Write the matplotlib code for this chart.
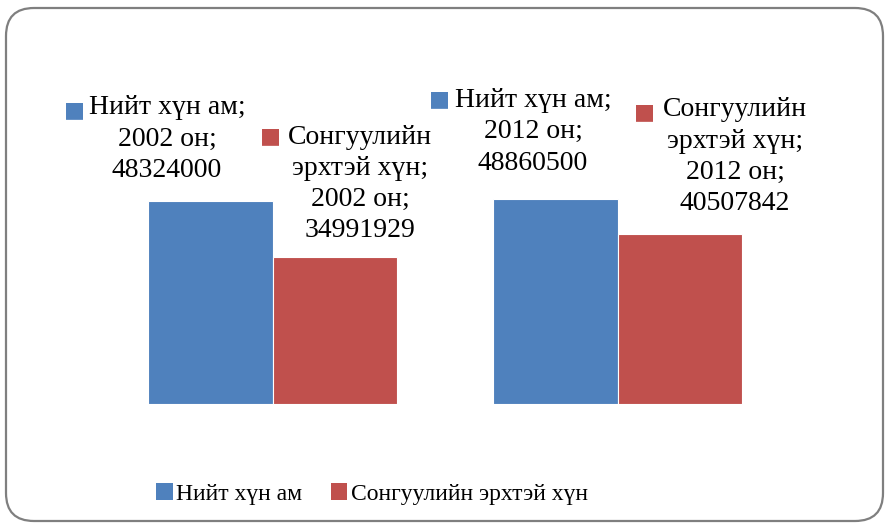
import matplotlib.pyplot as plt
from matplotlib.patches import FancyBboxPatch, Patch

# Data
years = ["2002 он", "2012 он"]
series = ["Нийт хүн ам", "Сонгуулийн эрхтэй хүн"]
total_pop = [48324000, 48860500]
voters = [34991929, 40507842]
colors = ["#4F81BD", "#C0504D"]

# label text wrapped like the original chart
label_lines = [
    ["Нийт хүн ам;", "Сонгуулийн\nэрхтэй хүн;"],
    ["Нийт хүн ам;", "Сонгуулийн\nэрхтэй хүн;"],
]
# manual offsets (pixels) for label blocks and their colour keys
text_offsets = [[(-43, 62), (25, 73)], [(-22, 67), (55, 77)]]
key_offsets = [[(-136, 91), (-64, 121)], [(-116, 100), (-35, 122)]]

plt.rcParams["font.family"] = ["Liberation Serif", "DejaVu Sans"]

fig = plt.figure(figsize=(8.88, 5.26), dpi=100)

# rounded frame around the whole chart
bg = fig.add_axes([0, 0, 1, 1])
bg.set_xlim(0, 888)
bg.set_ylim(526, 0)
bg.axis("off")
bg.add_patch(FancyBboxPatch((6, 8), 877, 513,
                            boxstyle="round,pad=0,rounding_size=28",
                            facecolor="white", edgecolor="#7f7f7f", lw=1.6))

ax = fig.add_axes([100 / 888, 122 / 526, 690 / 888, 294 / 526])
ax.set_xlim(-0.5, 1.5)
ax.set_ylim(0, 70e6)
ax.axis("off")

w = 0.362
x = [0, 1]
values = [total_pop, voters]
for s in range(2):
    xs = [xi + (s - 0.5) * w for xi in x]
    ax.bar(xs, values[s], width=w, color=colors[s], edgecolor="white", lw=0.8)
    for i in range(2):
        txt = f"{label_lines[i][s]}\n{years[i]};\n{values[s][i]}"
        ax.annotate(txt, (xs[i], values[s][i]), xytext=text_offsets[i][s],
                    textcoords="offset pixels", ha="center", va="center",
                    multialignment="center", fontsize=20, linespacing=1.33,
                    annotation_clip=False)
        ax.annotate("■", (xs[i], values[s][i]), xytext=key_offsets[i][s],
                    textcoords="offset pixels", ha="center", va="center",
                    color=colors[s], fontsize=16, family="DejaVu Sans",
                    annotation_clip=False)

handles = [Patch(facecolor=c, edgecolor="none") for c in colors]
fig.legend(handles, series, loc="center", bbox_to_anchor=(372 / 888, 1 - 494 / 526),
           ncol=2, frameon=False, fontsize=17, handlelength=0.7, handleheight=0.7,
           handletextpad=0.15, columnspacing=1.2)

plt.savefig("out.png", dpi=100)
